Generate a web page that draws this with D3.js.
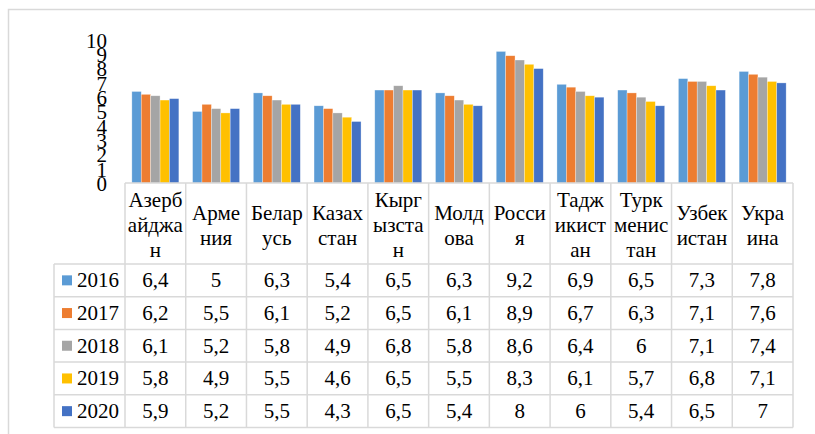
<!DOCTYPE html>
<html><head><meta charset="utf-8">
<script src="https://cdn.jsdelivr.net/npm/d3@7"></script>
<style>html,body{margin:0;padding:0;background:#fff;}svg{display:block;}</style>
</head><body>
<svg id="c" width="815" height="434"></svg>
<script>
const categories = ["Азербайджан","Армения","Беларусь","Казахстан","Кыргызстан","Молдова","Россия","Таджикистан","Туркменистан","Узбекистан","Украина"];
const headerLines = [["Азерб","айджа","н"],["Арме","ния"],["Белар","усь"],["Казах","стан"],["Кырг","ызста","н"],["Молд","ова"],["Росси","я"],["Тадж","икист","ан"],["Турк","менис","тан"],["Узбек","истан"],["Укра","ина"]];
const years = ["2016","2017","2018","2019","2020"];
const v2016 = [6.4,5,6.3,5.4,6.5,6.3,9.2,6.9,6.5,7.3,7.8];
const v2017 = [6.2,5.5,6.1,5.2,6.5,6.1,8.9,6.7,6.3,7.1,7.6];
const v2018 = [6.1,5.2,5.8,4.9,6.8,5.8,8.6,6.4,6,7.1,7.4];
const v2019 = [5.8,4.9,5.5,4.6,6.5,5.5,8.3,6.1,5.7,6.8,7.1];
const v2020 = [5.9,5.2,5.5,4.3,6.5,5.4,8,6,5.4,6.5,7];
const yTicks = [0,1,2,3,4,5,6,7,8,9,10];
const colors = ["#5B9BD5","#ED7D31","#A5A5A5","#FFC000","#4472C4"];

const series = [v2016,v2017,v2018,v2019,v2020];
const fmt = v => String(v).replace(".", ",");
const svg = d3.select("#c");
const FONT = "Liberation Serif";
const FS = 21;
const grid = "#D9D9D9";

// outer chart border
svg.append("rect").attr("x",8.5).attr("y",9.5).attr("width",900).attr("height",500)
  .attr("fill","none").attr("stroke",grid).attr("stroke-width",1.5);

const plotLeft = 125, plotRight = 793, plotBase = 183, plotTop = 40;
const x0 = d3.scaleBand().domain(categories).range([plotLeft,plotRight]).paddingInner(0.226).paddingOuter(0.113);
const x1 = d3.scaleBand().domain(years).range([0,x0.bandwidth()]);
const y = d3.scaleLinear().domain([0,10]).range([plotBase,plotTop]);

// bars
const g = svg.append("g");
categories.forEach((c,ci)=>{
  years.forEach((yr,si)=>{
    const v = series[si][ci];
    g.append("rect")
      .attr("x", x0(c)+x1(yr)).attr("y", y(v))
      .attr("width", x1.bandwidth()).attr("height", y(0)-y(v))
      .attr("fill", colors[si])
      .attr("stroke","#fff").attr("stroke-opacity",0.5).attr("stroke-width",0.6);
  });
});

// y axis labels
const yAxis = d3.axisLeft(y).tickValues(yTicks).tickSize(0).tickPadding(0);
const ya = svg.append("g").attr("transform",`translate(107,0)`).call(yAxis);
ya.select(".domain").remove();
ya.attr("font-family",FONT).attr("font-size",FS);
ya.selectAll("text").attr("font-family",FONT).attr("font-size",FS).attr("fill","#000").attr("dy","0.35em");

// table
const rowTop = 264, rowH = 32.7, colW = (plotRight-plotLeft)/categories.length;
const legLeft = 54;
const tl = svg.append("g").attr("stroke",grid).attr("stroke-width",1.5).attr("fill","none");
tl.append("line").attr("x1",plotLeft).attr("x2",plotRight).attr("y1",plotBase).attr("y2",plotBase);
for(let r=0;r<=years.length;r++){
  const yy = rowTop + r*rowH;
  tl.append("line").attr("x1",legLeft).attr("x2",plotRight).attr("y1",yy).attr("y2",yy);
}
const tableBottom = rowTop + years.length*rowH;
for(let c=0;c<=categories.length;c++){
  const xx = plotLeft + c*colW;
  tl.append("line").attr("x1",xx).attr("x2",xx).attr("y1",plotBase).attr("y2",tableBottom);
}
tl.append("line").attr("x1",legLeft).attr("x2",legLeft).attr("y1",rowTop).attr("y2",tableBottom);

// header text
const hc = (plotBase + rowTop)/2;
headerLines.forEach((lines,ci)=>{
  const cx = plotLeft + (ci+0.5)*colW;
  const n = lines.length;
  lines.forEach((t,li)=>{
    svg.append("text").attr("x",cx).attr("y",hc + 8.5 + (li-(n-1)/2)*25)
      .attr("text-anchor","middle").attr("font-family",FONT).attr("font-size",FS).attr("fill","#000").text(t);
  });
});

// data rows
years.forEach((yr,si)=>{
  const cy = rowTop + (si+0.5)*rowH;
  svg.append("rect").attr("x",62).attr("y",cy-5).attr("width",10).attr("height",10).attr("fill",colors[si]);
  svg.append("text").attr("x",77).attr("y",cy+7).attr("font-family",FONT).attr("font-size",FS).attr("fill","#000").text(yr);
  series[si].forEach((v,ci)=>{
    svg.append("text").attr("x",plotLeft+(ci+0.5)*colW).attr("y",cy+7).attr("text-anchor","middle")
      .attr("font-family",FONT).attr("font-size",FS).attr("fill","#000").text(fmt(v));
  });
});
</script>
</body></html>
